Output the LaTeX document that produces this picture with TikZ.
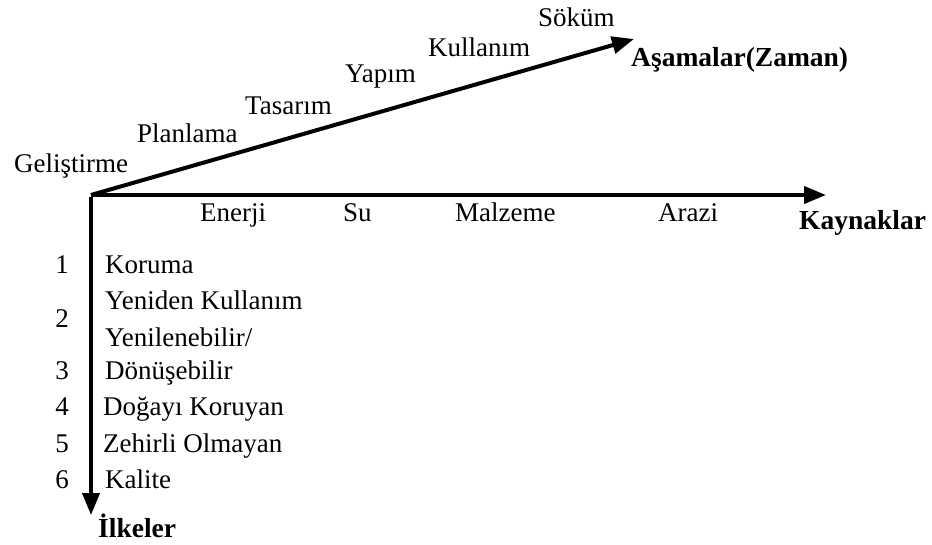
\documentclass[tikz,border=0pt]{standalone}
\usepackage{fontspec}
\setmainfont{Liberation Serif}
\usetikzlibrary{arrows.meta}
\begin{document}
\begin{tikzpicture}[x=1pt,y=-1pt,
  lbl/.style={inner sep=0pt,anchor=base west,font=\fontsize{27}{31}\selectfont},
  num/.style={inner sep=0pt,anchor=base,font=\fontsize{27}{31}\selectfont},
  ttl/.style={inner sep=0pt,anchor=base west,font=\fontsize{27.5}{31}\selectfont\bfseries},
  axis/.style={line width=4pt,-{Triangle[length=22pt,width=17pt]}}]
\useasboundingbox (0,0) rectangle (932,545);
\coordinate (O) at (91,195);
\coordinate (Tz) at (634,39);
\coordinate (Tk) at (826,195);
\coordinate (Ti) at (91,515);
\draw[axis] (O) -- (Tz);
\draw[axis] (O) -- (Tk);
\draw[axis] ([yshift=-2pt]O) -- (Ti);
% phases
\node[lbl] (g) at (14,173) {Geliştirme};
\node[lbl] (p) at (137,143) {Planlama};
\node[lbl] (t) at (245,115) {Tasarım};
\node[lbl] (y) at (345,83) {Yapım};
\node[lbl] (k) at (428,57) {Kullanım};
\node[lbl] (s) at (538,27) {Söküm};
\node[ttl] (az) at (631,67) {Aşamalar(Zaman)};
% resources
\node[lbl] (en) at (200,222) {Enerji};
\node[lbl] (su) at (343,222) {Su};
\node[lbl] (ma) at (455,222) {Malzeme};
\node[lbl] (ar) at (658,222) {Arazi};
\node[ttl] (ky) at (799,230) {Kaynaklar};
% principles
\node[num] (n1) at (62,274) {1};
\node[lbl] (l1) at (105,274) {Koruma};
\node[lbl] (l2a) at (105,310) {Yeniden Kullanım};
\node[num] (n2) at (62,328) {2};
\node[lbl] (l3a) at (105,347) {Yenilenebilir/};
\node[num] (n3) at (62,380) {3};
\node[lbl] (l3b) at (105,380) {Dönüşebilir};
\node[num] (n4) at (62,415) {4};
\node[lbl] (l4) at (103,415) {Doğayı Koruyan};
\node[num] (n5) at (62,452) {5};
\node[lbl] (l5) at (103,452) {Zehirli Olmayan};
\node[num] (n6) at (62,488) {6};
\node[lbl] (l6) at (105,488) {Kalite};
\node[ttl] (il) at (98,537) {İlkeler};
\end{tikzpicture}
\end{document}
